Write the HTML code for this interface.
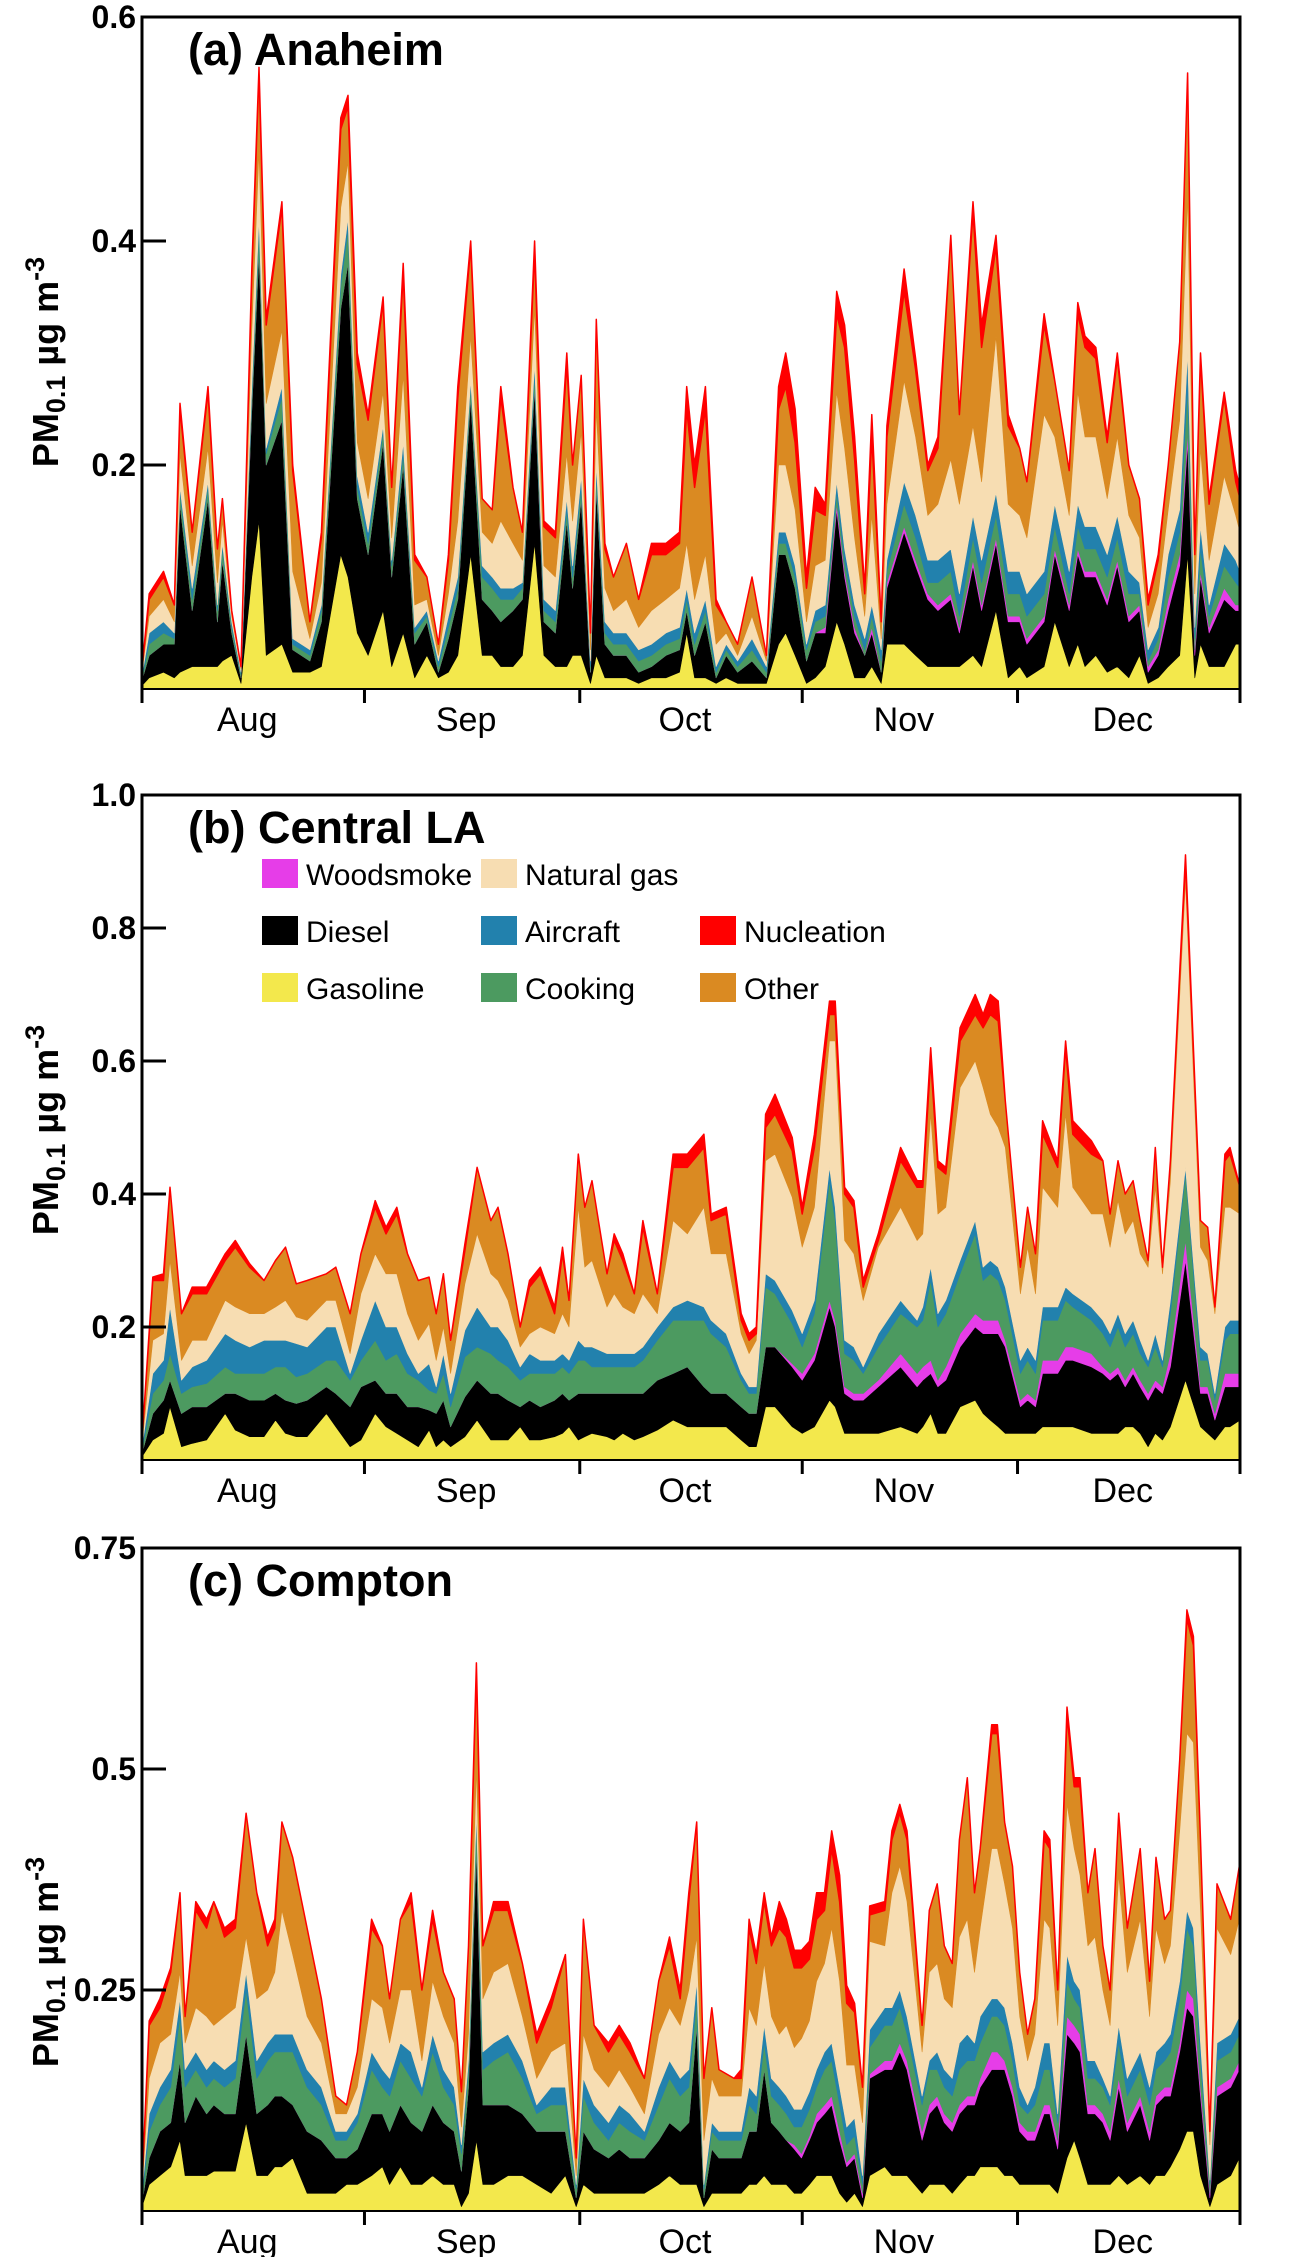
<!DOCTYPE html>
<html><head><meta charset="utf-8"><style>
html,body{margin:0;padding:0;background:#fff;}
svg{display:block;font-family:"Liberation Sans",Arial,sans-serif;}
</style></head><body>
<svg id="fig" width="1314" height="2257" viewBox="0 0 1314 2257" xmlns="http://www.w3.org/2000/svg"></svg>
<script>
// ---------- Panel (a) Anaheim ----------
const daysA=[0,1,3,4.5,5.3,7,9.2,10.5,11.2,12.5,13.8,15.3,16.3,17.3,19.5,21,23.4,25,27.7,28.7,30,31.5,33.6,34.8,36.4,38,39.7,41.3,42.7,44,45.8,47.4,48.8,50,51.7,53,54.7,56,57.6,59.2,60,61.2,62.5,63.3,64.5,65.7,67.5,69.2,71,73,74.9,75.9,77,78.5,80,81.4,83,85,87,88.7,89.7,91,92.6,93.8,95.2,96.8,97.9,99.3,100.7,101.7,103,103.8,106.2,107.8,109.5,110.9,112.7,113.9,115.8,117,119,120.7,122.3,123.3,125.7,127.2,129.2,130.4,131.4,132.9,134.5,135.9,137.5,139,140.2,141.6,143,144.6,145.7,146.7,147.5,148.7,150.8,152.4,153];
const gasolineA=[.003,.01,.015,.01,.015,.02,.02,.02,.025,.03,.005,.10,.15,.03,.04,.015,.015,.02,.12,.10,.05,.03,.07,.02,.05,.01,.03,.01,.015,.03,.12,.03,.03,.02,.02,.03,.13,.03,.02,.02,.03,.03,.005,.03,.01,.01,.01,.005,.01,.01,.015,.05,.01,.01,.005,.01,.005,.005,.005,.04,.05,.03,.005,.01,.02,.06,.04,.01,.01,.02,.005,.04,.04,.03,.02,.02,.02,.02,.03,.02,.07,.01,.02,.01,.02,.06,.02,.04,.02,.03,.015,.02,.01,.03,.005,.01,.02,.03,.12,.01,.04,.02,.02,.04,.04];
const dieselA=[.005,.02,.025,.03,.15,.05,.15,.04,.09,.02,.005,.15,.24,.17,.20,.02,.01,.04,.22,.28,.12,.09,.15,.08,.15,.03,.03,.005,.03,.05,.14,.05,.04,.04,.05,.05,.14,.03,.03,.13,.06,.14,.01,.15,.03,.02,.02,.01,.01,.02,.02,.02,.02,.05,.005,.02,.01,.02,.005,.08,.07,.06,.02,.04,.03,.10,.06,.04,.02,.03,.01,.05,.10,.08,.06,.05,.06,.03,.08,.05,.06,.05,.04,.03,.04,.06,.05,.08,.08,.07,.06,.09,.05,.04,.01,.02,.05,.08,.10,.02,.06,.03,.06,.03,.03];
const woodsmokeA=[0,0,0,0,0,0,0,0,0,0,0,0,0,0,0,0,0,0,0,0,0,0,0,0,0,0,0,0,0,0,0,0,0,0,0,0,0,0,0,0,0,0,0,0,0,0,0,0,0,0,0,0,0,0,0,0,0,0,0,0,0,0,0,0,.005,.005,.005,.005,0,.005,0,.005,.005,.005,.005,.005,.005,.005,.005,.005,.005,.005,.005,.005,.005,.005,.005,.005,.005,.005,.005,.005,.005,.005,.005,.005,.01,.01,.01,.005,.005,.005,.01,.005,.005];
const cookingA=[.002,.01,.01,.005,.01,.01,.01,.01,.01,.005,.003,.01,.02,.01,.02,.005,.005,.01,.02,.03,.01,.01,.01,.01,.01,.01,.005,.005,.01,.01,.01,.02,.02,.02,.01,.01,.01,.01,.01,.01,.01,.01,.005,.01,.01,.01,.01,.01,.01,.01,.01,.01,.01,.01,.005,.005,.005,.01,.005,.01,.01,.01,.01,.01,.01,.01,.01,.01,.005,.01,.01,.01,.02,.02,.01,.02,.02,.01,.02,.02,.02,.02,.02,.02,.02,.02,.01,.02,.02,.02,.02,.02,.02,.01,.005,.01,.02,.02,.04,.01,.02,.01,.02,.02,.015];
const aircraftA=[.002,.01,.01,.005,.005,.01,.005,.005,.005,.005,.002,.01,.01,.005,.01,.005,.005,.005,.01,.01,.01,.01,.005,.005,.01,.005,.005,.005,.01,.01,.005,.01,.01,.01,.01,.005,.01,.01,.01,.01,.01,.01,.005,.01,.01,.01,.01,.01,.01,.01,.01,.01,.01,.01,.005,.005,.005,.01,.005,.01,.01,.01,.005,.01,.01,.01,.01,.01,.01,.01,.01,.01,.02,.02,.02,.02,.02,.02,.02,.02,.02,.02,.02,.02,.02,.02,.02,.02,.02,.02,.02,.02,.02,.01,.01,.01,.02,.02,.03,.01,.02,.01,.02,.02,.015];
const natgasA=[.003,.015,.02,.01,.03,.02,.03,.02,.02,.005,.003,.05,.06,.04,.05,.06,.01,.02,.06,.05,.03,.03,.03,.02,.06,.02,.01,.005,.02,.05,.04,.03,.03,.06,.04,.02,.05,.03,.03,.04,.04,.04,.01,.05,.03,.02,.03,.02,.03,.03,.035,.04,.03,.04,.02,.01,.005,.02,.005,.06,.06,.05,.02,.04,.04,.08,.09,.06,.02,.08,.01,.05,.09,.07,.04,.05,.08,.08,.08,.07,.14,.06,.05,.05,.14,.06,.05,.10,.08,.08,.05,.07,.05,.04,.02,.03,.04,.08,.14,.03,.07,.04,.06,.04,.035];
const otherA=[.003,.015,.02,.015,.04,.03,.05,.03,.02,.005,.002,.05,.07,.07,.11,.09,.015,.04,.07,.05,.07,.07,.08,.045,.09,.04,.02,.01,.03,.11,.08,.03,.03,.11,.05,.025,.05,.035,.035,.08,.05,.05,.015,.08,.035,.03,.05,.025,.05,.04,.04,.12,.1,.13,.035,.01,.01,.035,.005,.05,.07,.06,.03,.05,.04,.07,.09,.07,.02,.07,.015,.06,.08,.06,.04,.05,.20,.08,.19,.12,.08,.07,.06,.05,.08,.05,.04,.07,.08,.07,.05,.07,.045,.035,.02,.03,.04,.07,.11,.035,.08,.05,.07,.03,.03];
const nucleationA=[0,.005,.005,0,.005,0,.005,0,0,0,0,.005,.005,.005,.005,.005,0,.005,.01,.01,.01,.005,.005,0,.01,.005,0,0,.005,.01,.005,0,0,.01,0,0,.01,.005,.005,.01,0,0,0,0,.005,0,0,0,.01,.01,.01,.02,.02,.02,.005,0,0,0,0,.02,.03,.03,.01,.02,.01,.02,.02,.02,.005,.02,0,.01,.02,.01,.005,.01,0,0,.01,.02,.01,.01,0,0,.01,0,0,.01,.01,.01,.005,.005,0,0,.005,.005,0,0,0,0,.005,.005,.005,.01,.01];

// ---------- Panel (b) Central LA ----------
const daysB=[0,1.5,3,3.9,5.5,7,9,11.6,13,15,17,18.6,20,21.5,23,25.7,27,29,30.5,32.5,34,35.5,37,38.5,40,41,42,43,45,46.7,48.6,49.6,51,52.7,54,55.5,57.5,58.6,59.5,60.8,61.7,62.7,64.8,65.8,67,68.6,69.8,71.8,74,76,78.3,79.3,81.4,83.5,84.6,85.6,86.9,88.2,90.6,92,93.7,95.8,96.6,97.9,99.2,100.5,102.6,105.7,108,108.8,109.9,110.9,112,114,116.1,117.2,118.2,119.3,120.3,122.4,123.4,124.5,125.5,127.6,128.7,129.7,132.3,133.9,134.9,136,137,138.1,139.1,140.2,141.2,142.2,143.3,145.4,147.5,148.5,149.5,150.9,151.6,153];
const gasolineB=[.005,.03,.04,.08,.02,.025,.03,.07,.045,.035,.035,.06,.04,.035,.035,.07,.05,.02,.03,.07,.05,.04,.03,.02,.045,.02,.03,.02,.035,.06,.03,.03,.03,.05,.03,.03,.035,.04,.05,.03,.035,.04,.035,.03,.04,.03,.035,.045,.06,.05,.05,.05,.05,.03,.02,.02,.08,.08,.05,.04,.05,.09,.08,.04,.04,.04,.04,.05,.04,.05,.07,.04,.04,.08,.09,.07,.06,.05,.04,.04,.04,.04,.05,.05,.05,.05,.04,.04,.04,.04,.05,.05,.04,.02,.04,.03,.05,.12,.05,.04,.03,.05,.05,.06];
const dieselB=[.005,.04,.05,.04,.05,.055,.05,.03,.055,.055,.055,.04,.05,.05,.055,.04,.05,.06,.08,.05,.05,.06,.05,.06,.03,.05,.06,.03,.06,.06,.07,.07,.06,.03,.06,.05,.055,.06,.04,.07,.065,.06,.065,.07,.06,.07,.065,.075,.07,.09,.06,.05,.05,.05,.05,.05,.09,.09,.09,.08,.10,.14,.12,.06,.05,.05,.07,.09,.07,.07,.06,.07,.08,.09,.11,.12,.13,.14,.13,.04,.05,.04,.08,.08,.10,.10,.10,.09,.08,.09,.06,.08,.07,.07,.07,.07,.09,.18,.05,.06,.03,.06,.06,.05];
const woodsmokeB=[0,0,0,0,0,0,0,0,0,0,0,0,0,0,0,0,0,0,0,0,0,0,0,0,0,0,0,0,0,0,0,0,0,0,0,0,0,0,0,0,0,0,0,0,0,0,0,0,0,0,0,0,0,0,0,0,0,0,.005,.01,.01,.01,.01,.01,.01,.01,.01,.02,.02,.02,.02,.01,.02,.02,.02,.02,.02,.02,.01,.01,.01,.01,.02,.02,.02,.02,.02,.01,.01,.01,.01,.01,.01,.01,.01,.01,.02,.03,.01,.01,.01,.02,.02,.02];
const cookingB=[.005,.03,.03,.04,.03,.03,.035,.04,.03,.04,.04,.04,.05,.04,.04,.04,.05,.04,.04,.06,.05,.06,.05,.04,.03,.03,.04,.03,.06,.05,.06,.05,.05,.04,.04,.05,.04,.04,.04,.05,.05,.04,.04,.04,.04,.04,.05,.06,.08,.07,.10,.09,.07,.04,.03,.03,.09,.08,.06,.04,.06,.18,.15,.05,.05,.03,.05,.06,.07,.07,.12,.08,.08,.09,.12,.06,.07,.06,.06,.04,.05,.04,.06,.06,.07,.06,.05,.05,.04,.06,.05,.05,.04,.04,.05,.03,.06,.10,.04,.04,.02,.05,.06,.06];
const aircraftB=[.005,.03,.03,.07,.02,.03,.035,.05,.05,.04,.05,.04,.04,.05,.04,.05,.05,.01,.03,.06,.05,.04,.03,.01,.04,.01,.03,.02,.04,.06,.04,.05,.04,.02,.03,.02,.02,.02,.02,.03,.02,.03,.02,.02,.02,.02,.02,.02,.02,.03,.02,.02,.02,.01,.01,.01,.02,.02,.02,.02,.02,.02,.02,.02,.02,.01,.02,.02,.01,.02,.02,.02,.02,.02,.02,.02,.02,.02,.02,.02,.02,.02,.02,.02,.02,.02,.02,.02,.02,.02,.02,.02,.02,.01,.02,.01,.02,.01,.02,.01,.01,.02,.02,.02];
const natgasB=[.005,.05,.04,.07,.03,.04,.03,.05,.05,.05,.04,.05,.06,.04,.04,.04,.04,.03,.07,.07,.08,.08,.06,.05,.06,.04,.04,.03,.07,.11,.08,.07,.06,.03,.03,.05,.04,.06,.05,.20,.12,.13,.07,.09,.07,.06,.08,.02,.13,.10,.15,.10,.12,.06,.05,.07,.17,.19,.17,.13,.14,.19,.25,.15,.14,.10,.13,.14,.12,.11,.23,.15,.14,.26,.24,.27,.22,.21,.21,.10,.15,.10,.18,.15,.26,.16,.14,.16,.13,.17,.15,.15,.13,.14,.22,.13,.18,.43,.15,.14,.12,.18,.17,.16];
const otherB=[.005,.09,.08,.11,.07,.07,.07,.06,.09,.07,.05,.07,.08,.05,.06,.04,.05,.06,.06,.07,.06,.09,.09,.09,.07,.07,.08,.05,.05,.10,.08,.11,.07,.03,.07,.08,.03,.09,.04,.08,.09,.12,.05,.08,.07,.03,.10,.03,.08,.10,.09,.05,.06,.02,.02,.01,.05,.06,.07,.05,.09,.04,.04,.07,.07,.02,.01,.07,.08,.07,.08,.07,.05,.07,.07,.09,.15,.16,.07,.04,.06,.06,.08,.06,.10,.08,.09,.08,.05,.06,.06,.06,.05,.01,.06,.01,.03,.03,.04,.05,.01,.07,.08,.04];
const nucleationB=[0,.005,.01,0,0,.01,.01,.01,.01,.005,0,0,0,0,0,0,0,0,0,.01,.01,.01,0,0,0,0,0,0,.01,0,0,0,0,0,.01,.01,.01,.01,0,0,0,0,0,.01,.01,0,.01,0,.02,.02,.02,.01,.01,.01,.01,.01,.02,.03,.02,.01,.02,.02,.02,.01,.01,.01,.01,.02,.01,.01,.02,.01,.01,.02,.03,.02,.03,.03,0,0,0,0,.02,.01,.01,.02,.02,0,0,0,0,0,0,0,0,0,0,.01,0,0,0,.01,.01,0];

// ---------- Panel (c) Compton ----------
const daysC=[0,1,2.5,4,5.3,6,7.5,9,10,11.5,13,14.5,16,17.5,18.5,19.5,21,23,25,27,28.5,30,32,33.5,34.5,36,37.5,39,40.5,42,43.5,44.5,45.5,46.6,47.5,49,51,53,55,57,59,60.5,61.5,63,65,66.5,68,70,72,73.5,75,76.2,77.3,78.3,79.4,80.4,82.5,83.5,84.6,85.6,86.7,87.7,88.8,89.8,90.9,91.9,93,94,95.1,96.1,97.2,98.2,99.3,100.4,101.4,103.5,104.5,105.6,106.6,108.7,109.7,110.8,111.8,112.9,113.9,115,116,116.8,118.4,119.2,120.2,121.3,122.3,123.4,124.4,125.7,126.5,127.6,128.9,129.9,130.7,131.8,132.8,133.9,134.9,136.1,137.3,139.1,140.4,141.3,142.5,143.3,144.6,145.6,146.5,147.5,148.8,149.8,151.7,152.9];
const gasolineC=[.005,.03,.04,.05,.08,.04,.04,.04,.045,.045,.045,.10,.04,.04,.05,.05,.06,.02,.02,.02,.03,.03,.04,.05,.03,.05,.03,.03,.04,.03,.03,.005,.02,.08,.03,.03,.04,.04,.03,.02,.04,.005,.03,.02,.02,.02,.02,.02,.03,.04,.03,.03,.03,.005,.02,.02,.02,.02,.03,.03,.04,.03,.03,.03,.02,.02,.03,.04,.04,.04,.02,.01,.02,.005,.04,.05,.04,.04,.04,.02,.03,.03,.03,.02,.03,.04,.04,.05,.05,.05,.04,.04,.03,.03,.03,.03,.03,.02,.06,.08,.06,.03,.03,.03,.03,.04,.03,.04,.03,.04,.04,.05,.07,.09,.09,.04,.005,.03,.04,.06];
const dieselC=[.005,.03,.05,.05,.09,.06,.09,.07,.075,.065,.065,.10,.07,.08,.08,.08,.06,.07,.06,.04,.03,.04,.07,.06,.06,.07,.07,.06,.08,.07,.06,.04,.12,.33,.09,.09,.08,.07,.06,.07,.05,.01,.06,.05,.04,.05,.04,.04,.05,.06,.06,.07,.18,.01,.05,.04,.04,.04,.06,.06,.12,.07,.06,.05,.05,.04,.05,.06,.07,.08,.06,.04,.04,.01,.11,.11,.12,.14,.12,.06,.08,.09,.07,.07,.08,.08,.08,.09,.11,.11,.12,.09,.06,.05,.05,.08,.08,.05,.14,.11,.12,.08,.08,.07,.05,.10,.06,.08,.05,.08,.09,.08,.11,.14,.13,.09,.01,.10,.10,.10];
const woodsmokeC=[0,0,0,0,0,0,0,0,0,0,0,0,0,0,0,0,0,0,0,0,0,0,0,0,0,0,0,0,0,0,0,0,0,0,0,0,0,0,0,0,0,0,0,0,0,0,0,0,0,0,0,0,0,0,0,0,0,0,0,0,0,0,0,0,.005,.005,.005,.01,.01,.01,.01,.005,.005,.005,.005,.01,.01,.01,.01,.01,.01,.01,.01,.01,.01,.01,.01,.01,.02,.02,.01,.01,.01,.01,.01,.01,.01,.01,.02,.02,.02,.01,.01,.01,.01,.01,.01,.01,.01,.01,.01,.01,.01,.02,.02,.01,.005,.01,.01,.01];
const cookingC=[.005,.03,.03,.04,.05,.04,.03,.03,.03,.03,.04,.05,.04,.05,.05,.05,.06,.05,.04,.02,.02,.03,.05,.03,.04,.05,.05,.04,.06,.04,.03,.02,.02,.03,.04,.05,.06,.04,.02,.03,.03,.01,.04,.03,.02,.03,.03,.02,.04,.05,.04,.04,.03,.01,.02,.02,.02,.02,.03,.02,.03,.03,.03,.03,.02,.03,.03,.03,.04,.04,.03,.02,.02,.01,.03,.04,.04,.04,.03,.03,.04,.03,.03,.03,.04,.04,.04,.04,.04,.04,.04,.03,.02,.02,.03,.04,.04,.02,.04,.03,.03,.03,.03,.03,.03,.04,.03,.03,.03,.03,.03,.04,.05,.07,.06,.03,.01,.03,.03,.03];
const aircraftC=[.005,.02,.02,.02,.02,.02,.02,.02,.02,.02,.02,.02,.02,.02,.02,.02,.02,.02,.02,.01,.01,.01,.02,.02,.02,.02,.03,.01,.02,.02,.02,.01,.01,.01,.02,.02,.02,.02,.01,.02,.02,.005,.02,.02,.02,.02,.02,.01,.02,.02,.02,.02,.02,.005,.01,.01,.01,.01,.02,.02,.02,.02,.02,.02,.02,.02,.02,.02,.02,.02,.02,.02,.02,.01,.02,.02,.02,.02,.02,.01,.01,.02,.02,.02,.03,.03,.02,.03,.02,.02,.02,.02,.02,.01,.02,.03,.03,.01,.03,.02,.02,.02,.02,.01,.01,.02,.02,.02,.02,.02,.02,.02,.02,.02,.02,.02,.005,.02,.02,.02];
const natgasC=[.005,.04,.05,.04,.03,.03,.05,.06,.04,.06,.06,.04,.07,.06,.07,.14,.09,.06,.05,.02,.02,.03,.06,.07,.04,.06,.07,.03,.06,.06,.05,.02,.03,.05,.06,.08,.08,.05,.03,.04,.05,.01,.05,.04,.04,.04,.03,.02,.06,.06,.06,.09,.05,.05,.05,.04,.04,.04,.09,.08,.07,.07,.06,.08,.07,.08,.08,.10,.10,.13,.12,.07,.06,.06,.10,.07,.13,.14,.13,.05,.10,.10,.08,.08,.12,.13,.08,.10,.17,.17,.14,.13,.08,.05,.06,.14,.13,.10,.17,.15,.13,.13,.14,.10,.08,.17,.12,.15,.08,.14,.09,.10,.17,.20,.21,.15,.04,.13,.09,.11];
const otherC=[.005,.06,.04,.07,.09,.03,.11,.10,.14,.09,.09,.14,.12,.05,.05,.10,.11,.10,.05,.02,.01,.04,.08,.07,.05,.08,.10,.08,.07,.05,.05,.04,.10,.11,.06,.07,.06,.06,.04,.05,.10,.02,.13,.05,.04,.04,.04,.04,.06,.07,.03,.10,.13,.07,.08,.03,.02,.02,.09,.07,.07,.08,.12,.10,.09,.08,.07,.07,.06,.09,.09,.07,.06,.04,.03,.04,.06,.06,.07,.03,.07,.09,.06,.05,.11,.16,.09,.09,.13,.13,.07,.07,.05,.03,.04,.09,.09,.04,.10,.07,.10,.06,.10,.05,.04,.07,.05,.08,.04,.08,.05,.04,.08,.13,.11,.08,.015,.05,.04,.06];
const nucleationC=[0,.005,.01,.005,0,0,.01,.01,0,.01,.01,0,0,.01,.01,0,0,0,0,0,0,0,.01,0,0,0,.01,0,.01,0,0,0,0,.01,0,.01,.01,0,.01,.01,0,0,0,0,.01,.01,.01,0,0,.01,.01,.01,0,0,0,0,0,.01,.01,.01,.01,.01,.03,.02,.02,.02,.02,.03,.02,.02,.03,.02,.01,0,.01,.01,.01,.01,.01,0,0,0,0,0,0,0,0,0,.01,.01,0,0,0,0,0,.01,.01,0,.01,.01,.01,0,0,0,0,0,0,0,0,0,0,0,0,.01,.01,0,0,0,0,0];

const seriesNames=["Gasoline","Diesel","Woodsmoke","Cooking","Aircraft","Natural gas","Other","Nucleation"];
const seriesColors=["#f3e84c","#000000","#e63de8","#4c9a60","#2281ad","#f7ddb2","#da8a22","#ff0000"];
const monthLabels=["Aug","Sep","Oct","Nov","Dec"];
const monthStartDays=[0,31,61,92,122,153];
const ticksA=[0.2,0.4,0.6];
const ticksB=[0.2,0.4,0.6,0.8,1.0];
const ticksC=[0.25,0.5,0.75];

const NS="http://www.w3.org/2000/svg";
const svg=document.getElementById("fig");
function mk(tag,attrs,parent){const e=document.createElementNS(NS,tag);for(const k in attrs)e.setAttribute(k,attrs[k]);(parent||svg).appendChild(e);return e;}

function drawPanel(p){
  const X0=142,X1=1240,DAYS=153;
  const xs=d=>X0+(d/DAYS)*(X1-X0);
  const ys=v=>p.zeroY-(v/p.ymax)*(p.zeroY-p.topY);
  const g=mk("g",{});
  
  
  const n=Math.min(p.days.length,...p.series.map(s=>s.length));
  let lower=new Array(n).fill(0);
  p.series.forEach((s,si)=>{
    const upper=lower.map((b,i)=>b+s[i]);
    let d="M"+xs(p.days[0]).toFixed(1)+","+ys(upper[0]).toFixed(1);
    for(let i=1;i<n;i++)d+="L"+xs(p.days[i]).toFixed(1)+","+ys(upper[i]).toFixed(1);
    for(let i=n-1;i>=0;i--)d+="L"+xs(p.days[i]).toFixed(1)+","+ys(lower[i]).toFixed(1);
    d+="Z";
    const path=mk("path",{d:d,fill:seriesColors[si],stroke:si===7?"#ff0000":seriesColors[si],"stroke-width":si===7?"1.5":"0.6","stroke-linejoin":"round"},g);
    
    
    lower=upper;
  });
  const fr=mk("path",{d:"M"+X0+","+p.zeroY+"L"+X0+","+p.topY+"L"+X1+","+p.topY+"L"+X1+","+p.zeroY,fill:"none",stroke:"#000","stroke-width":"3"},g);
  
  
  const xa=mk("line",{x1:X0,y1:p.zeroY,x2:X1,y2:p.zeroY,stroke:"#000","stroke-width":"2"},g);
  
  
  p.ticks.forEach(t=>{
    const y=ys(t);
    if(t<p.ymax-1e-6){const tk=mk("line",{x1:X0,y1:y,x2:X0+24,y2:y,stroke:"#000","stroke-width":"3"},g);
      
      }
    const tl=mk("text",{x:136,y:y+11,"text-anchor":"end","font-size":"32","font-weight":"bold"},g);
    tl.textContent=p.fmt(t);
    
    
  });
  monthStartDays.forEach(d=>{
    const tk=mk("line",{x1:xs(d),y1:p.zeroY,x2:xs(d),y2:p.zeroY+14,stroke:"#000","stroke-width":"3"},g);
    
    
  });
  monthLabels.forEach((m,i)=>{
    const cx=(xs(monthStartDays[i])+xs(monthStartDays[i+1]))/2;
    const t=mk("text",{x:cx-6,y:p.zeroY+42,"text-anchor":"middle","font-size":"34"},g);
    t.textContent=m;
    
    
  });
  const tt=mk("text",{x:188,y:p.topY+48,"font-size":"45","font-weight":"bold"},g);
  tt.textContent=p.title;
  
  
  const yl=mk("text",{transform:"translate(58,"+p.labelY+") rotate(-90)","text-anchor":"middle","font-size":"36","font-weight":"bold"},g);
  
  
  const a=mk("tspan",{},yl);a.textContent="PM";
  const b=mk("tspan",{"font-size":"27",dy:"7"},yl);b.textContent="0.1";
  const c=mk("tspan",{dy:"-7"},yl);c.textContent=" \u00b5g m";
  const e=mk("tspan",{"font-size":"27",dy:"-14"},yl);e.textContent="-3";
}

drawPanel({key:"anaheim",title:"(a) Anaheim",days:daysA,series:[gasolineA,dieselA,woodsmokeA,cookingA,aircraftA,natgasA,otherA,nucleationA],topY:17,zeroY:689,ymax:0.6,ticks:ticksA,fmt:t=>t.toFixed(1),labelY:362});
drawPanel({key:"central-la",title:"(b) Central LA",days:daysB,series:[gasolineB,dieselB,woodsmokeB,cookingB,aircraftB,natgasB,otherB,nucleationB],topY:795,zeroY:1460,ymax:1.0,ticks:ticksB,fmt:t=>t.toFixed(1),labelY:1130});
drawPanel({key:"compton",title:"(c) Compton",days:daysC,series:[gasolineC,dieselC,woodsmokeC,cookingC,aircraftC,natgasC,otherC,nucleationC],topY:1548,zeroY:2211,ymax:0.75,ticks:ticksC,fmt:t=>String(t),labelY:1962});

const legendOrder=[[2,"Woodsmoke"],[5,"Natural  gas"],[1,"Diesel"],[4,"Aircraft"],[7,"Nucleation"],[0,"Gasoline"],[3,"Cooking"],[6,"Other"]];
const legendPos=[[0,0],[1,0],[0,1],[1,1],[2,1],[0,2],[1,2],[2,2]];
const lg=mk("g",{});


legendOrder.forEach((it,i)=>{
  const x=262+legendPos[i][0]*219, y=859+legendPos[i][1]*57;
  const sw=mk("rect",{x:x,y:y,width:36,height:29,fill:seriesColors[it[0]]},lg);
  
  
  const t=mk("text",{x:x+44,y:y+26,"font-size":"30"},lg);
  t.textContent=it[1];
  
  
});
</script>
</body></html>
